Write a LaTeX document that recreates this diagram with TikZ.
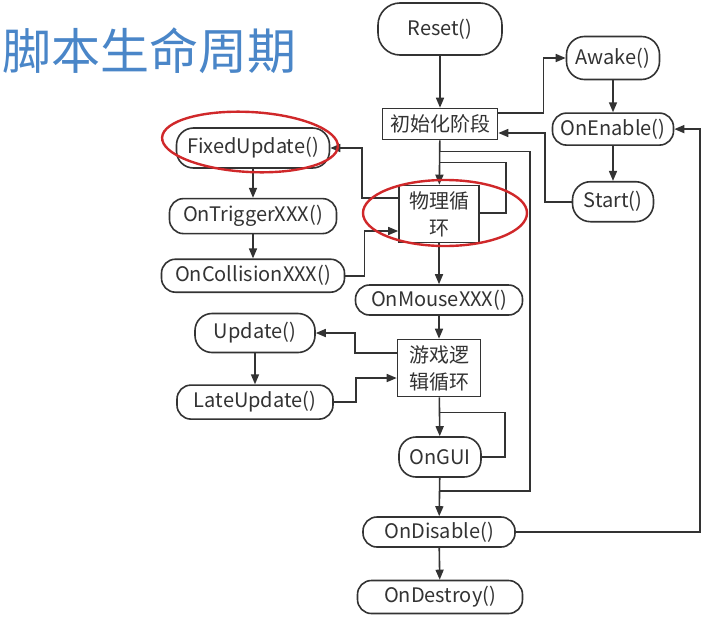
\documentclass[tikz,border=0pt]{standalone}
\usepackage{fontspec}
\setmainfont{Noto Sans CJK SC}
\usepackage{xcolor}
\definecolor{ink}{HTML}{333333}
\definecolor{titleblue}{HTML}{4A86C8}
\definecolor{ringred}{HTML}{D0282A}
\usepackage{tikz}
\usetikzlibrary{arrows.meta,positioning,calc}

\begin{document}
\begin{tikzpicture}[
  x=1pt, y=1pt,
  stagebox/.style={
    rectangle, draw=ink, line width=1.6pt, align=center, text=ink,
    font=\fontsize{20}{27}\selectfont, inner sep=1pt
  },
  callbox/.style={stagebox, rounded corners=14pt},
  arr/.style={-{Triangle[length=10pt,width=8pt]}, ink, line width=1.6pt},
  ln/.style={ink, line width=1.6pt},
  ring/.style={draw=ringred, line width=2.4pt}
]
\fill[white] (0,0) rectangle (720,-624);
\useasboundingbox (0,0) rectangle (720,-624);

% Title
\node[anchor=west, text=titleblue, font=\fontsize{49}{53}\selectfont, inner sep=0pt] (title) at (2,-51) {脚本生命周期};

% Main column
\node[callbox, rounded corners=22pt, minimum width=124pt, minimum height=52pt] (reset) at (440,-29) {Reset()};
\node[stagebox, minimum width=115pt, minimum height=31pt] (init) at (440,-124) {初始化阶段};
\node[stagebox, minimum width=80pt, minimum height=57pt] (phys) at (439,-214) {物理循\\环};
\node[callbox, minimum width=167pt, minimum height=30pt] (onmouse) at (439,-300) {OnMouseXXX()};
\node[stagebox, minimum width=83pt, minimum height=57pt] (game) at (439,-368) {游戏逻\\辑循环};
\node[callbox, rounded corners=17pt, minimum width=82pt, minimum height=40pt] (ongui) at (440,-457) {OnGUI};
\node[callbox, minimum width=152pt, minimum height=30pt] (ondisable) at (439,-532) {OnDisable()};
\node[callbox, minimum width=165pt, minimum height=33pt] (ondestroy) at (440,-597) {OnDestroy()};

% Right column
\node[callbox, rounded corners=18pt, minimum width=93pt, minimum height=43pt] (awake) at (613,-58) {Awake()};
\node[callbox, minimum width=121pt, minimum height=32pt, below=32pt of awake] (onenable) {OnEnable()};
\node[callbox, rounded corners=18pt, minimum width=81pt, minimum height=40pt, below=35pt of onenable] (start) {Start()};

% Left column, physics
\node[callbox, rounded corners=17pt, minimum width=153pt, minimum height=40pt] (fixed) at (253,-148) {FixedUpdate()};
\node[callbox, minimum width=167pt, minimum height=35pt, below=29pt of fixed] (trigger) {OnTriggerXXX()};
\node[callbox, minimum width=183pt, minimum height=33pt, below=24pt of trigger] (collision) {OnCollisionXXX()};

% Left column, game logic
\node[callbox, rounded corners=17pt, minimum width=120pt, minimum height=39pt] (update) at (255,-333) {Update()};
\node[callbox, minimum width=156pt, minimum height=34pt, below=31pt of update] (late) {LateUpdate()};

% Free ends
\coordinate (skip) at ($(init.south)+(0,-11)$);
\coordinate (physin) at ($(init.south)+(0,-22)$);
\coordinate (guiin) at ($(game.south)+(0,-15)$);
\coordinate (guiout) at ($(ongui.south)+(0,-13)$);

% Main flow
\foreach \a/\b in {reset/init, init/phys, phys/onmouse, onmouse/game, game/ongui, ongui/ondisable, ondisable/ondestroy}
  \draw[arr] (\a) -- (\b);
\foreach \a/\b in {awake/onenable, onenable/start, fixed/trigger, trigger/collision, update/late}
  \draw[arr] (\a) -- (\b);

% Init and enable
\draw[arr] ([yshift=11pt]init.east) -- ++(45,0) |- (awake.west);
\draw[arr] (start.west) -- ++(-27,0) |- ([yshift=-9pt]init.east);
\draw[arr] (ondisable.east) -- ++(184,0) |- (onenable.east);
\draw[ln] (skip) -- ++(90,0) |- (guiout);

% Physics loop
\draw[ln] ([yshift=1pt]phys.east) -- ++(26,0) |- (physin);
\draw[arr] ([yshift=16pt]phys.west) -- ++(-36,0) |- (fixed.east);
\draw[arr] (collision.east) -- ++(19,0) |- ([yshift=-17pt]phys.west);

% Game logic loop
\draw[arr] ([yshift=15pt]game.west) -- ++(-42,0) |- (update.east);
\draw[arr] (late.east) -- ++(22,0) |- ([yshift=-10pt]game.west);
\draw[ln] (ongui.east) -- ++(23,0) |- (guiin);

% Red rings
\coordinate (fixedring) at ($(fixed)+(-3,6)$);
\draw[ring, rotate around={-3:(fixedring)}] (fixedring) ellipse [x radius=88, y radius=30];
\draw[ring] ($(phys)+(6,1)$) ellipse [x radius=82, y radius=33];
\end{tikzpicture}
\end{document}
